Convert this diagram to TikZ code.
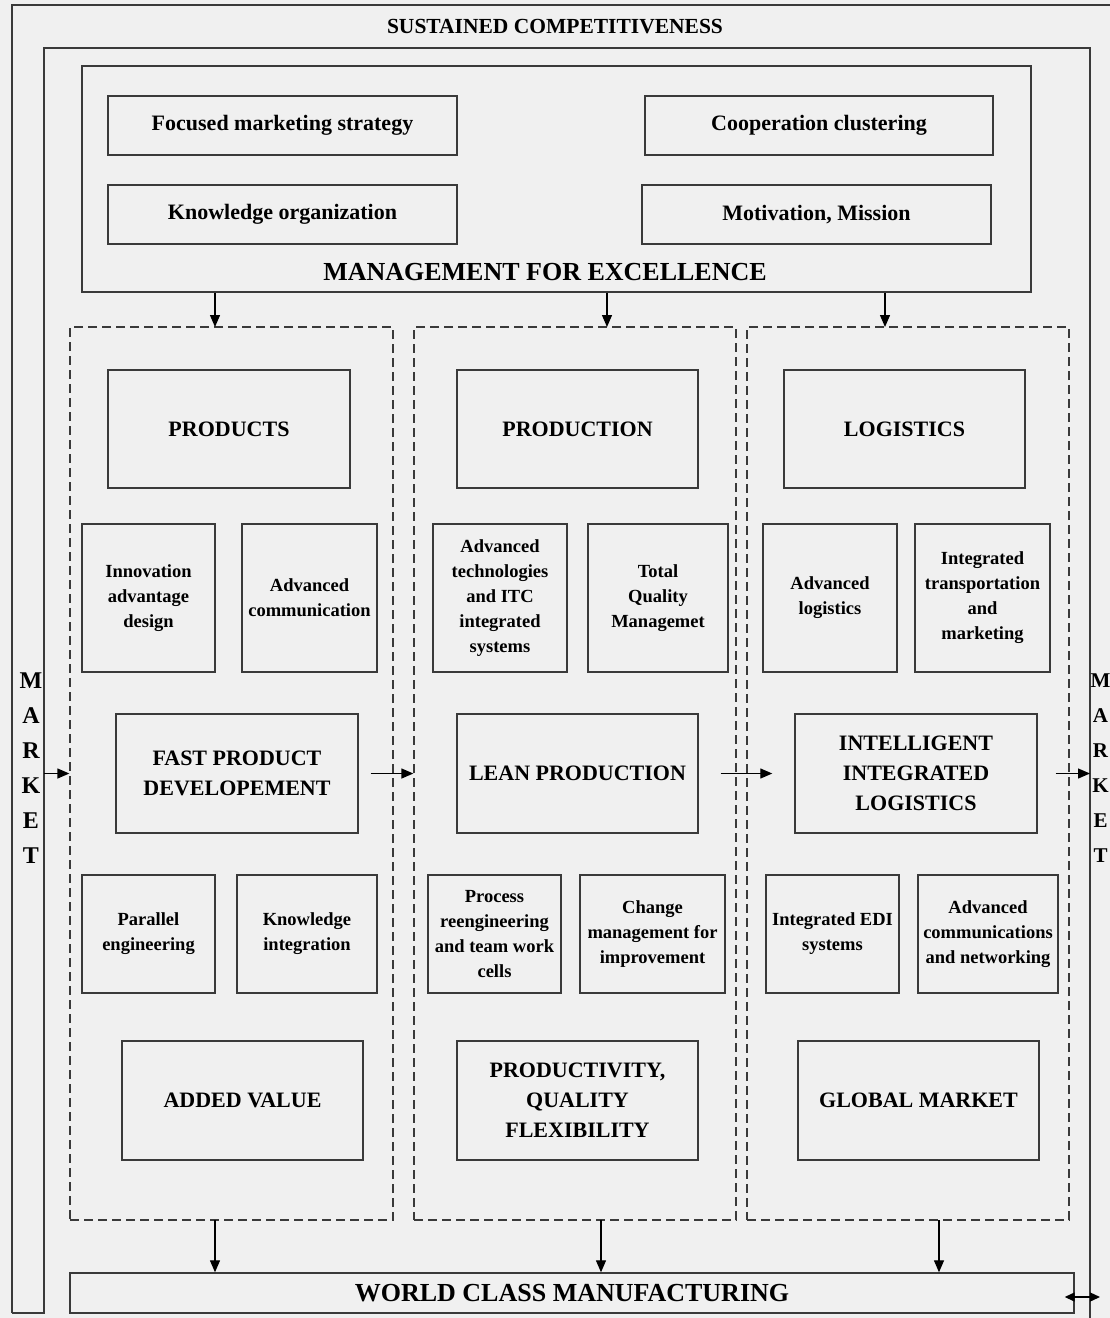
\documentclass[tikz,border=0pt]{standalone}
\usepackage{fontspec}
\setmainfont{Liberation Serif}
\usetikzlibrary{arrows.meta}

\definecolor{paper}{HTML}{F0F0F0}
\definecolor{ink}{HTML}{3A3A3A}

\begin{document}
\begin{tikzpicture}[x=1pt, y=-1pt,
    every node/.style = {align=center, inner sep=2pt, font=\bfseries},
    box/.style = {draw=ink, line width=1.4pt},
    big/.style = {font=\bfseries\fontsize{22}{30}\selectfont},
    small/.style = {font=\bfseries\fontsize{18.5}{25}\selectfont},
    huge/.style = {font=\bfseries\fontsize{26}{30}\selectfont},
    col/.style = {draw=ink, line width=1.3pt, dash pattern=on 9pt off 5pt},
    market/.style = {font=\bfseries\fontsize{24}{35}\selectfont},
    arr/.style = {draw=black, line width=1.3pt, -{Triangle[length=12pt,width=10pt]}}]
  \useasboundingbox (0,0) rectangle (1110,1318);
  \clip (0,0) rectangle (1110,1318);
  \fill[paper] (0,0) rectangle (1110,1318);

  \draw[ink, line width=1.4pt] (12,1313) -- (12,5) -- (1130,5);
  \draw[ink, line width=1.4pt] (12,1313) -- (44,1313) -- (44,48) -- (1090,48) -- (1090,1330);
  \coordinate (mktL) at (44,773.5);
  \coordinate (mktR) at (1090,773.5);
  \coordinate (mktW) at (1090,1297);
  \node[font=\bfseries\fontsize{21.5}{26}\selectfont] (title) at (555,27) {SUSTAINED COMPETITIVENESS};
  \node[market] (marketL) at (31,768) {M\\A\\R\\K\\E\\T};
  \node[market, font=\bfseries\fontsize{21}{35}\selectfont, inner sep=0pt] (marketR) at (1100.5,768) {M\\A\\R\\K\\E\\T};

  \node[box, minimum width=949pt, minimum height=226pt] (mgmt) at (556.5,179) {};
  \node[huge] (mgmttitle) at (545,272) {MANAGEMENT FOR EXCELLENCE};
  \node[box, big, minimum width=349pt, minimum height=59pt] (focused) at (282.5,125.5) {Focused marketing strategy};
  \node[box, big, minimum width=348pt, minimum height=59pt] (cooperation) at (819,125.5) {Cooperation clustering};
  \node[box, big, minimum width=349pt, minimum height=59pt] (knoworg) at (282.5,214.5) {Knowledge organization};
  \node[box, big, minimum width=349pt, minimum height=59pt] (motivation) at (816.5,214.5) {Motivation, Mission};

  \node[col, minimum width=323pt, minimum height=893pt] (col1) at (231.5,773.5) {};
  \node[col, minimum width=322pt, minimum height=893pt] (col2) at (575,773.5) {};
  \node[col, minimum width=322pt, minimum height=893pt] (col3) at (908,773.5) {};

  \node[box, big, minimum width=242pt, minimum height=118pt] (products) at (229,429) {PRODUCTS};
  \node[box, small, minimum width=133pt, minimum height=148pt] (innov) at (148.5,598) {Innovation\\advantage\\design};
  \node[box, small, minimum width=135pt, minimum height=148pt] (advcomm) at (309.5,598) {Advanced\\communication};
  \node[box, big, minimum width=242pt, minimum height=119pt] (fastpd) at (237,773.5) {FAST PRODUCT\\DEVELOPEMENT};
  \node[box, small, minimum width=133pt, minimum height=118pt] (parallel) at (148.5,934) {Parallel\\engineering};
  \node[box, small, minimum width=140pt, minimum height=118pt] (knowint) at (307,934) {Knowledge\\integration};
  \node[box, big, minimum width=241pt, minimum height=119pt] (addedval) at (242.5,1100.5) {ADDED VALUE};

  \node[box, big, minimum width=241pt, minimum height=118pt] (production) at (577.5,429) {PRODUCTION};
  \node[box, small, minimum width=134pt, minimum height=148pt] (advtech) at (500,598) {Advanced\\technologies\\and ITC\\integrated\\systems};
  \node[box, small, minimum width=140pt, minimum height=148pt] (tqm) at (658,598) {Total\\Quality\\Managemet};
  \node[box, big, minimum width=241pt, minimum height=119pt] (lean) at (577.5,773.5) {LEAN PRODUCTION};
  \node[box, small, minimum width=133pt, minimum height=118pt] (process) at (494.5,934) {Process\\reengineering\\and team work\\cells};
  \node[box, small, minimum width=145pt, minimum height=118pt] (change) at (652.5,934) {Change\\management for\\improvement};
  \node[box, big, minimum width=241pt, minimum height=119pt] (productivity) at (577.5,1100.5) {PRODUCTIVITY,\\QUALITY\\FLEXIBILITY};

  \node[box, big, minimum width=241pt, minimum height=118pt] (logistics) at (904.5,429) {LOGISTICS};
  \node[box, small, minimum width=134pt, minimum height=148pt] (advlog) at (830,598) {Advanced\\logistics};
  \node[box, small, minimum width=135pt, minimum height=148pt] (integtrans) at (982.5,598) {Integrated\\transportation\\and\\marketing};
  \node[box, big, minimum width=242pt, minimum height=119pt] (intlog) at (916,773.5) {INTELLIGENT\\INTEGRATED\\LOGISTICS};
  \node[box, small, minimum width=133pt, minimum height=118pt] (edi) at (832.5,934) {Integrated EDI\\systems};
  \node[box, small, minimum width=140pt, minimum height=118pt] (advcommnet) at (988,934) {Advanced\\communications\\and networking};
  \node[box, big, minimum width=241pt, minimum height=119pt] (global) at (918.5,1100.5) {GLOBAL MARKET};

  \node[box, huge, minimum width=1004pt, minimum height=40pt] (wcm) at (572,1293) {WORLD CLASS MANUFACTURING};

  \coordinate (t1) at (215,327);
  \coordinate (t2) at (607,327);
  \coordinate (t3) at (885,327);
  \coordinate (b1) at (215,1220);
  \coordinate (b2) at (601,1220);
  \coordinate (b3) at (939,1220);
  \draw[arr] (t1 |- mgmt.south) -- (t1);
  \draw[arr] (t2 |- mgmt.south) -- (t2);
  \draw[arr] (t3 |- mgmt.south) -- (t3);
  \draw[arr] (b1) -- (b1 |- wcm.north);
  \draw[arr] (b2) -- (b2 |- wcm.north);
  \draw[arr] (b3) -- (b3 |- wcm.north);

  \draw[arr] (mktL) -- (col1.west);
  \draw[arr] ([xshift=12pt]fastpd.east) -- (col2.west);
  \draw[arr] ([xshift=22pt]lean.east) -- ([xshift=-22pt]intlog.west);
  \draw[arr] ([xshift=18pt]intlog.east) -- (mktR);
  \draw[arr, {Triangle[length=10pt,width=9pt]}-{Triangle[length=10pt,width=9pt]}] ([xshift=-10pt]wcm.east |- mktW) -- ([xshift=10pt]mktW);
\end{tikzpicture}
\end{document}
